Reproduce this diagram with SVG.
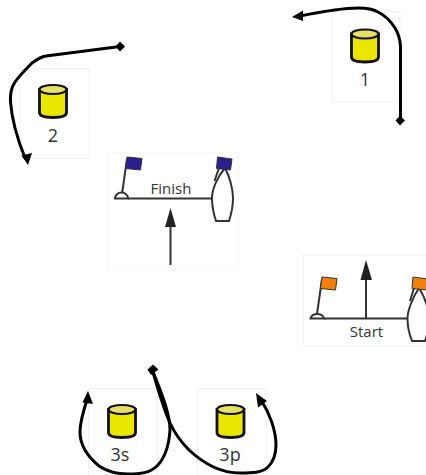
<svg xmlns="http://www.w3.org/2000/svg" width="426" height="475" viewBox="0 0 426 475">
<style>
.panel{fill:#fff;stroke:#f2f2f2;stroke-width:1}
.lbl{font-family:"Open Sans","Liberation Sans",sans-serif;fill:#333;text-anchor:middle}
.num{font-size:18px}
.cap{font-size:15px}
.can{fill:#ebe600;stroke:#111;stroke-width:2.8}
.top{fill:#e6df6a;stroke:#111;stroke-width:2.2}
.ln{fill:none;stroke:#333;stroke-width:2}
.hull{fill:#fff;stroke:#333;stroke-width:2}
.mv{fill:none;stroke:#000;stroke-width:3;stroke-linecap:round;stroke-linejoin:round}
.tip{fill:#000}
.arrh{fill:#222}
</style>
<defs>
<g id="buoy">
<path class="can" d="M-13,-12V11Q-13,16 0.500,16Q14,16 14,11V-12Z"/>
<ellipse class="top" cx="0.500" cy="-12" rx="13.500" ry="4.500"/>
</g>
</defs>
<g id="node-1">
<rect class="panel" x="332" y="12" width="68" height="90"/>
<use href="#buoy" x="364.500" y="46"/>
<text class="lbl num" x="365" y="86">1</text>
</g>
<g id="node-2">
<rect class="panel" x="20" y="68.500" width="69" height="90"/>
<use href="#buoy" x="52.500" y="101.500"/>
<text class="lbl num" x="53" y="142">2</text>
</g>
<g id="finish">
<rect class="panel" x="108.500" y="153" width="130" height="117" style="stroke:#f8f8f8"/>
<path class="ln" d="M122,194L127,159"/>
<path d="M127,157L142,158.500L140.500,170L125.500,168.500Z" fill="#2a1f8f" stroke="#333" stroke-width="1"/>
<path class="hull" d="M115,198.500A6.500,6 0 0 1 128,198.500Z"/>
<path class="ln" d="M128,198.500H212"/>
<path class="ln" d="M214.500,181L219,168"/>
<path class="hull" d="M225,168C230,177 233,190 233,198C233,206 231,215 229,221H216C214,215 212,206 212,198C212,190 217,177 225,168Z"/>
<path d="M217.500,157L232,159L230.500,170L216.500,168.500Z" fill="#2a1f8f" stroke="#333" stroke-width="1"/>
<text class="lbl cap" x="171" y="193.500">Finish</text>
<path class="ln" d="M170.500,265V222"/>
<path class="arrh" d="M170.500,208L176,227H165Z"/>
</g>
<g id="start">
<rect class="panel" x="303.500" y="255" width="123" height="91"/>
<path class="ln" d="M317,314L322,279"/>
<path d="M322,277L337,278.500L335.500,290L320.500,288.500Z" fill="#f08010" stroke="#333" stroke-width="1"/>
<path class="hull" d="M310.500,318.500A7,6 0 0 1 324,318.500Z"/>
<path class="ln" d="M324,318.500H408"/>
<path class="ln" d="M366,318.500V275"/>
<path class="arrh" d="M366,260L372,280H360.500Z"/>
<path class="ln" d="M410,301L414,288"/>
<path class="hull" d="M419,288C425,297 429,310 429,319C429,327 427,336 425,341H412C410,336 407.500,327 407.500,319C407.500,310 413,297 419,288Z"/>
<path d="M413,277L428,279L427,290L412,288.500Z" fill="#f08010" stroke="#333" stroke-width="1"/>
<text class="lbl cap" x="366.500" y="337">Start</text>
</g>
<g id="node-3s">
<rect class="panel" x="88.500" y="388.500" width="69" height="87"/>
<use href="#buoy" x="121.500" y="421.500"/>
<text class="lbl num" x="120" y="461">3s</text>
</g>
<g id="node-3p">
<rect class="panel" x="198" y="388.500" width="68" height="87"/>
<use href="#buoy" x="230" y="421.500"/>
<text class="lbl num" x="230" y="461">3p</text>
</g>
<g id="connectors">
<path class="mv" d="M400.500,120V46C400,38 398,33 395,28C390,20 384,15 378,12C373,9 366,8 358,8C340,8 320,12 300,16"/>
<path class="tip" d="M292,17L303,10.500L303,21Z"/>
<path class="tip" d="M400,115.500L405,120.500L400,125.500L395.500,120.500Z"/>
<path class="mv" d="M120,46.500L46,56C40,57 36,60 32,63C26,69 20,75 15,82C11,88 10,95 10.500,102C12,122 19,143 25,158"/>
<path class="tip" d="M28,165L21.500,155.500L32,153Z"/>
<path class="tip" d="M120,41.500L125,46.500L120,51.500L115.500,46.500Z"/>
<path class="mv" d="M87,400C83,412 80,422 80,432C80,444 87,456 99,466C108,472 118,474 128,474C140,474 150,473 157,466C166,457 169,445 170,430C170,412 160,390 152,369"/>
<path class="tip" d="M88,391L93,404L82.500,402.500Z"/>
<path class="mv" d="M152,369C157,385 162,405 170,423C176,436 182,443 189,450C204,464 222,473 240,473C252,473 262,473 268,467C274,461 276,453 276,445C276,430 269,412 261,400"/>
<path class="tip" d="M256,393L267,401L258,407.500Z"/>
<path class="tip" d="M147.500,369.500L153,364.500L158.500,369.500L151,375Z"/>
</g>
</svg>
